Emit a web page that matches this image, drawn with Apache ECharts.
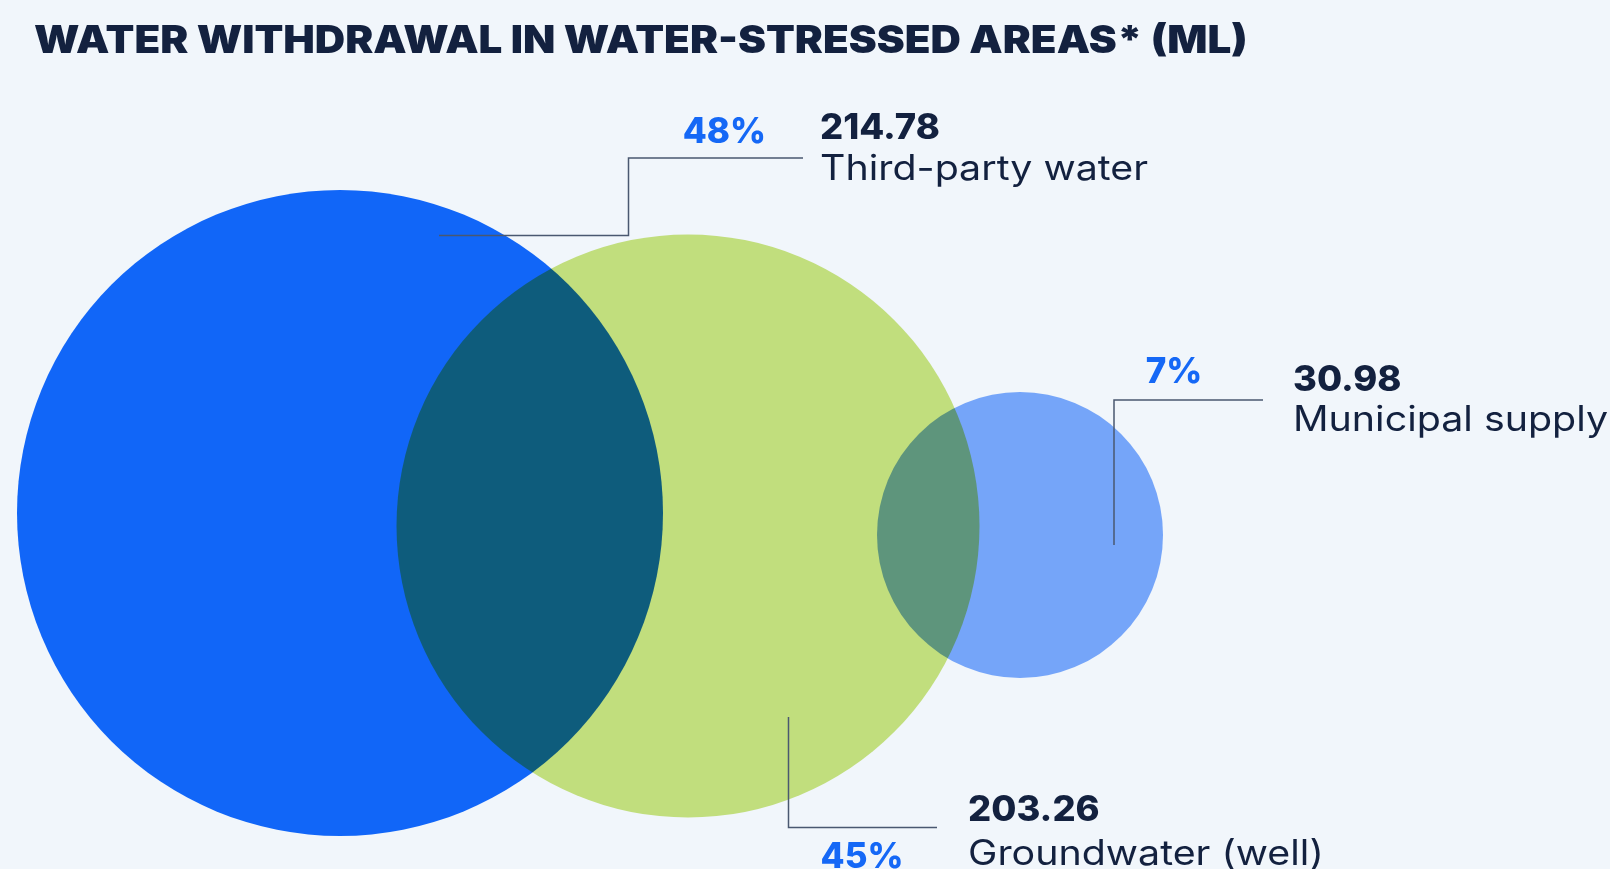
<!DOCTYPE html>
<html>
<head>
<meta charset="utf-8">
<script src="https://cdn.jsdelivr.net/npm/echarts@6/dist/echarts.min.js"></script>
<style>
  html, body { margin: 0; padding: 0; background: #F1F6FB; }
  #chart { width: 1610px; height: 869px; }
</style>
</head>
<body>
<div id="chart"></div>
<script>
// ---- data ----
const titleText = 'WATER WITHDRAWAL IN WATER-STRESSED AREAS* (ML)';
const categories = ['Third-party water', 'Groundwater (well)', 'Municipal supply'];
const volumesML = [214.78, 203.26, 30.98];
const sharePercent = [48, 45, 7];

// ---- styling / layout (not data) ----
const NAVY = '#13213F';
const PCT_BLUE = '#1568F6';
const LINE = '#4A5870';
const FONT = 'Inter, "Noto Sans", sans-serif';
// fill colours chosen so that the multiply blend with the background gives the reference tones
const circleColors = ['#126AFC', '#CCE67F', '#7CABFD'];
const circleDiameters = [646, 583, 286];
const circleOffsets = [[0, -12], [8, 1], [0, 10]];

const labelLayout = [
  { pct: [766, 132, 'right'], val: [820, 128], name: [820, 169], line: [[439, 235.5], [628.5, 235.5], [628.5, 158], [803, 158]] },
  { pct: [862, 857, 'center'], val: [968, 810], name: [968, 854], line: [[788.5, 717], [788.5, 827.5], [937, 827.5]] },
  { pct: [1174, 372, 'center'], val: [1293, 380], name: [1293, 420], line: [[1114, 545], [1114, 400], [1263, 400]] }
];

const chart = echarts.init(document.getElementById('chart'), null, { renderer: 'canvas' });

const graphics = [{
  type: 'text', x: 34, y: 42, scaleX: 1.107,
  style: { text: titleText, fill: NAVY, font: '900 38px ' + FONT, textAlign: 'left', textVerticalAlign: 'middle' }
}];
categories.forEach((name, i) => {
  const L = labelLayout[i];
  graphics.push({
    type: 'polyline', shape: { points: L.line },
    style: { stroke: LINE, lineWidth: 1.5, fill: null }, z: 10
  });
  graphics.push({
    type: 'text', x: L.pct[0], y: L.pct[1], z: 10,
    style: { text: sharePercent[i] + '%', fill: PCT_BLUE, font: '800 35px ' + FONT, textAlign: L.pct[2], textVerticalAlign: 'middle' }
  });
  graphics.push({
    type: 'text', x: L.val[0], y: L.val[1], z: 10, scaleX: 1.04,
    style: { text: volumesML[i].toFixed(2), fill: NAVY, font: '800 35px ' + FONT, textAlign: 'left', textVerticalAlign: 'middle' }
  });
  graphics.push({
    type: 'text', x: L.name[0], y: L.name[1], z: 10, scaleX: 1.125,
    style: { text: name, fill: NAVY, font: '400 35px ' + FONT, textAlign: 'left', textVerticalAlign: 'middle' }
  });
});

chart.setOption({
  backgroundColor: '#F1F6FB',
  animation: false,
  grid: { left: 340, right: 590, top: 425, bottom: 244 },
  xAxis: { type: 'category', data: categories, boundaryGap: false, show: false },
  yAxis: { type: 'category', data: ['row'], show: false },
  series: [{
    type: 'scatter',
    blendMode: 'multiply',
    data: categories.map((c, i) => ({
      value: [c, 'row', volumesML[i]],
      symbolSize: circleDiameters[i],
      symbolOffset: circleOffsets[i],
      itemStyle: { color: circleColors[i], opacity: 1 }
    })),
    symbol: 'circle',
    silent: true
  }],
  graphic: graphics
});
</script>
</body>
</html>
